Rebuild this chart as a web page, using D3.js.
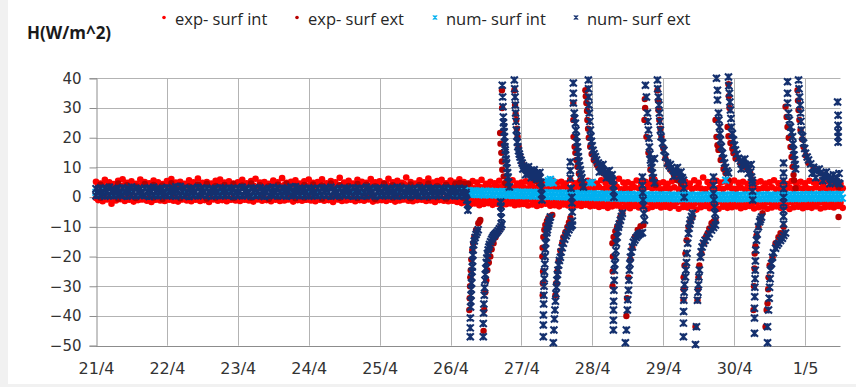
<!DOCTYPE html>
<html><head><meta charset="utf-8">
<script src="https://cdn.jsdelivr.net/npm/d3@7"></script>
<style>body{margin:0;background:#fff}svg{display:block}</style>
</head><body>
<svg id="chart" width="856" height="387"></svg>
<script>
// ---------- axis data ----------
const dayLabels = ["21/4","22/4","23/4","24/4","25/4","26/4","27/4","28/4","29/4","30/4","1/5"];
const yTicks = [40,30,20,10,0,-10,-20,-30,-40,-50];
const seriesNames = ["exp- surf int","exp- surf ext","num- surf int","num- surf ext"];

// time in days from 21/4 00:00; band rows are regularly sampled
const BAND_STEP = 1/16;
// exp- surf int (red) band rows, t = i/16
const expIntTop = [5.2,4.6,5.8,5.0,4.4,5.5,6.0,4.8,5.3,4.5,5.9,5.1,4.7,5.6,5.0,4.4,
5.4,6.1,4.9,5.2,4.5,5.7,5.0,6.3,4.8,5.1,4.6,5.5,5.9,4.9,5.3,4.6,
5.0,5.8,4.7,5.4,6.2,4.9,5.1,4.5,5.6,5.0,6.4,4.8,5.2,5.7,4.6,5.3,
5.9,4.8,5.1,6.0,4.7,5.4,5.0,6.5,4.9,5.5,4.6,5.8,5.2,4.8,6.1,5.0,
5.3,4.7,6.2,5.0,5.5,4.8,6.6,5.1,4.6,5.7,5.0,6.3,4.9,5.4,5.8,4.7,
5.6,4.9,6.0,5.1,4.6,5.4,4.9,5.8,4.5,5.2,4.7,5.5,4.4,5.0,5.7,4.6,
4.9,5.3,4.5,6.0,4.8,5.1,4.3,5.6,4.9,5.2,4.6,5.8,4.7,5.0,4.4,5.5,
5.1,4.6,5.7,4.8,5.3,4.5,6.2,4.9,5.0,4.4,5.6,4.8,5.2,4.6,5.9,4.7,
5.0,4.5,5.4,6.4,4.9,5.2,4.6,5.7,4.8,6.6,5.1,4.7,5.5,4.9,5.3,4.6,
5.6,4.8,5.2,4.5,5.9,4.9,5.3,4.6,5.0,5.7,4.7,5.1,4.4,5.4,4.8,5.2,
4.7,5.5,4.9,5.1,4.6,5.3,4.8,5.0,4.5];
const expIntUpper = [3.9,4.3,3.5,4.0,4.4,3.7,4.1,3.4,4.2,3.8,4.5,3.6,4.0,4.3,3.5,4.1,
3.8,4.2,3.6,4.4,3.9,3.5,4.1,3.7,4.3,4.0,3.6,4.2,3.8,4.4,3.7,4.0,
4.1,3.6,4.3,3.9,3.5,4.2,4.0,3.7,4.4,3.8,4.1,3.6,4.3,3.9,4.0,3.7,
4.2,3.8,4.5,3.6,4.0,4.3,3.7,4.1,3.9,4.4,3.6,4.0,4.2,3.8,4.5,3.9,
4.0,4.4,3.7,4.2,3.9,4.5,3.8,4.1,4.3,3.7,4.0,4.4,3.8,4.2,3.6,4.0,
3.8,3.4,3.9,3.2,3.6,3.0,3.5,3.3,3.7,3.1,3.6,3.4,3.0,3.5,3.2,3.7,
3.3,2.9,3.6,3.1,3.4,2.8,3.5,3.2,3.0,3.6,2.9,3.3,3.1,3.5,2.8,3.2,
3.0,3.4,2.7,3.2,2.9,3.5,2.6,3.1,2.8,3.3,3.0,2.7,3.4,2.9,3.2,2.6,
3.1,2.8,3.3,2.6,3.0,3.5,2.7,3.2,2.9,2.6,3.4,2.8,3.1,2.7,3.3,2.9,
2.8,3.2,2.6,3.0,3.4,2.7,3.1,2.9,3.3,2.6,3.0,2.8,3.2,2.7,3.1,2.9,
3.0,2.7,3.3,2.8,3.1,2.6,3.2,2.9,3.0];
const expIntLower = [-0.3,-0.6,0.0,-0.4,-0.8,-0.2,-0.5,0.1,-0.6,-0.3,-0.7,-0.1,-0.4,-0.9,-0.2,-0.5,
-0.1,-0.6,-0.3,-0.8,0.0,-0.4,-0.7,-0.2,-0.5,-0.9,-0.3,0.1,-0.6,-0.4,-0.8,-0.2,
-0.5,-0.1,-0.7,-0.3,-0.6,0.0,-0.4,-0.8,-0.2,-0.5,-0.3,-0.7,-0.1,-0.6,-0.4,-0.9,
-0.2,-0.6,-0.4,0.1,-0.7,-0.3,-0.5,-0.8,-0.1,-0.4,-0.6,-0.2,-0.9,-0.3,-0.5,0.0,
-0.4,-0.7,-0.2,-0.5,-0.1,-0.8,-0.3,-0.6,0.0,-0.4,-0.7,-0.2,-0.5,-0.3,-0.6,-0.2,
-0.5,-0.3,-0.8,-0.6,-1.0,-0.7,-1.2,-0.9,-0.6,-1.1,-0.8,-1.3,-0.7,-1.0,-0.9,-1.2,
-1.0,-1.3,-0.8,-1.2,-1.5,-1.0,-1.4,-1.1,-1.6,-1.2,-1.5,-1.3,-1.7,-1.4,-1.2,-1.6,
-1.5,-1.8,-1.3,-1.7,-2.0,-1.6,-1.9,-1.4,-1.8,-2.1,-1.6,-1.9,-1.5,-1.8,-2.0,-1.7,
-1.9,-1.6,-2.1,-1.8,-1.5,-2.0,-1.7,-2.2,-1.8,-1.6,-2.0,-1.7,-1.9,-1.5,-2.1,-1.8,
-1.7,-2.0,-1.6,-1.9,-2.2,-1.8,-1.5,-2.0,-1.7,-2.1,-1.9,-1.6,-2.0,-1.8,-1.5,-1.9,
-1.8,-2.1,-1.6,-1.9,-1.7,-2.0,-1.8,-1.6,-1.9];
const expIntBottom = [-1.0,-1.4,-0.8,-2.2,-1.1,-0.7,-1.3,-0.9,-1.5,-1.0,-0.8,-1.2,-1.6,-0.9,-1.1,-1.3,
-0.9,-1.2,-1.5,-0.8,-1.1,-1.4,-0.9,-1.3,-1.0,-1.6,-0.8,-1.2,-1.0,-1.4,-0.9,-1.1,
-1.3,-0.9,-1.1,-1.5,-0.8,-1.2,-1.0,-1.4,-0.9,-1.3,-1.1,-0.8,-1.5,-1.0,-1.2,-0.9,
-1.1,-1.4,-0.9,-1.2,-1.0,-1.6,-0.8,-1.3,-1.1,-0.9,-1.4,-1.0,-1.2,-0.8,-1.5,-1.1,
-1.0,-1.3,-0.9,-1.5,-1.1,-0.8,-1.2,-1.4,-1.0,-0.9,-1.3,-1.1,-1.6,-1.0,-1.2,-1.4,
-1.2,-1.6,-2.0,-1.8,-2.4,-2.1,-2.7,-2.3,-2.0,-2.6,-2.2,-2.8,-2.4,-2.1,-2.7,-2.5,
-2.3,-2.8,-2.5,-3.0,-2.6,-2.2,-2.9,-2.7,-3.1,-2.5,-2.8,-3.2,-2.7,-3.0,-2.6,-3.1,
-2.9,-3.3,-3.0,-3.6,-3.1,-2.8,-3.4,-3.2,-3.7,-3.0,-3.5,-3.1,-3.8,-3.3,-2.9,-3.5,
-3.2,-3.6,-3.0,-3.9,-3.3,-3.5,-3.1,-4.2,-3.4,-3.0,-3.7,-3.3,-3.9,-3.2,-3.6,-3.4,
-3.1,-3.7,-3.3,-3.0,-3.8,-3.4,-3.2,-3.9,-3.5,-3.1,-3.6,-3.3,-4.0,-3.4,-3.2,-3.7,
-3.3,-3.6,-3.1,-3.8,-3.4,-3.2,-3.5,-3.0,-3.6];

// exp- surf ext (dark red) band before 26/4, t = 1/16 + i/8
const expExtBandHi = [4.2,3.8,4.6,4.0,3.6,4.4,4.1,3.9,4.7,4.0,3.7,4.3,4.5,3.8,4.1,4.4,3.9,4.6,4.0,3.7,4.2,4.5,3.8,4.1,4.3,3.9,4.6,4.0,3.8,4.4,4.2,3.7,4.5,4.0,3.9,4.3,4.1,4.6,3.8,4.2,4.0,4.4];
const expExtBandLo = [-0.2,0.3,-0.5,0.1,-0.3,0.4,-0.1,-0.6,0.2,-0.4,0.0,0.3,-0.5,-0.1,0.2,-0.3,0.4,-0.2,0.1,-0.6,0.0,0.3,-0.4,-0.1,0.2,-0.5,0.1,-0.2,0.4,-0.3,0.0,-0.6,0.2,-0.1,0.3,-0.4,0.1,-0.2,0.0,-0.5,0.2,-0.3];
// exp- surf ext spikes [day, value]
const expExtSpikes = [
[5.07,4.5],[5.1,3.8],[5.13,4.8],[5.16,3.5],[5.19,4.2],[5.22,3.6],[5.25,4.5],
[5.265,-38],[5.27,-34],[5.275,-30],[5.279,-27],[5.285,-24.6],[5.293,-21],[5.307,-17.8],[5.32,-15.5],[5.335,-13.4],[5.36,-11],[5.392,-8.8],[5.41,-8.2],[5.42,-7.7],
[5.466,-45],[5.475,-38],[5.49,-32],[5.505,-28],[5.519,-24.6],[5.54,-22],[5.561,-20],[5.58,-17.5],[5.607,-15.5],[5.635,-13.5],[5.66,-12.2],[5.68,-11.2],[5.702,-10.4],
[5.725,36],[5.728,30],[5.70,21.6],[5.705,18],[5.716,14.9],[5.725,12],[5.73,9.2],[5.75,7],[5.772,4.8],[5.80,3],[5.815,2.4],
[5.900,36],[5.91,31],[5.918,28],[5.928,26],[5.935,23],[5.946,20.3],[5.96,17],[5.98,14],[6.01,11.5],[6.055,9.5],[6.1,8],[6.15,6.8],[6.196,5.5],[6.24,4.8],[6.27,4.5],
[6.30,-33],[6.302,-29],[6.305,-25],[6.295,-20],[6.299,-17],[6.309,-13.4],[6.323,-11],[6.337,-9.4],[6.36,-8],[6.38,-7],[6.41,-6.4],[6.436,-6],
[6.479,-33],[6.49,-29],[6.507,-25],[6.525,-21.5],[6.549,-18],[6.575,-15.5],[6.591,-13.5],[6.62,-11.8],[6.648,-10],[6.67,-8.5],[6.69,-7],
[6.732,31.7],[6.732,26],[6.735,20.3],[6.75,17],[6.761,14.9],[6.775,12.5],[6.789,10.2],[6.81,8],[6.831,5.7],[6.86,4.2],[6.874,3.4],
[6.902,36],[6.908,34],[6.916,31.7],[6.925,29],[6.93,26],[6.94,23],[6.95,20],[6.97,17],[6.99,14.5],[7.02,12.5],[7.06,11],[7.085,10],[7.12,9],[7.156,8],[7.2,7],[7.25,6],[7.28,5],
[7.285,-30],[7.287,-25],[7.29,-20],[7.283,-15.5],[7.3,-13.4],[7.325,-11.5],[7.35,-10],[7.38,-8.5],[7.396,-6.7],[7.424,-5.4],
[7.48,-40],[7.49,-34],[7.509,-27],[7.537,-21],[7.565,-17],[7.6,-13.4],[7.64,-11],[7.68,-9.8],[7.721,-9.4],
[7.74,33],[7.745,30],[7.735,26],[7.763,20.3],[7.791,14.9],[7.819,9.2],[7.84,6],[7.89,4.1],
[7.918,36],[7.925,32.5],[7.932,29.3],[7.945,26],[7.96,23],[7.975,20.3],[8.0,16.5],[8.03,13],[8.06,11],[8.101,9.2],[8.15,7.5],[8.2,5.7],[8.25,4.5],
[8.285,-34.6],[8.287,-31],[8.287,-27],[8.3,-23],[8.313,-19],[8.33,-14.5],[8.356,-10],[8.384,-8],[8.412,-6.7],
[8.455,-43.6],[8.483,-34.7],[8.49,-31],[8.497,-27],[8.51,-23],[8.54,-19],[8.57,-15.5],[8.6,-13.5],[8.624,-12.2],[8.65,-10.5],[8.681,-8.8],[8.71,-8.2],[8.737,-7.8],
[8.737,26],[8.751,20.3],[8.765,17.5],[8.779,15.9],[8.81,12.5],[8.85,9.5],[8.878,8.1],[8.92,5.7],
[8.92,38],[8.925,34],[8.935,30],[8.907,23.6],[8.92,20.5],[8.948,18.2],[8.975,16.3],[8.991,14.8],[9.02,13],[9.09,11.5],[9.15,10.2],[9.203,9.1],[9.23,8],
[9.273,-38],[9.28,-30],[9.287,-24],[9.29,-19],[9.3,-16.5],[9.315,-13],[9.343,-10],[9.372,-7.5],[9.40,-5.4],
[9.442,-43.6],[9.458,-38],[9.471,-35.7],[9.48,-31],[9.485,-27],[9.5,-23],[9.541,-20.2],[9.584,-15.5],[9.625,-13.5],[9.654,-12.1],[9.697,-10],
[9.725,30.4],[9.74,27],[9.753,23.6],[9.77,20],[9.795,16.9],[9.81,13.5],[9.824,10.2],[9.838,7.5],[9.845,5.7],[9.866,3],
[9.894,36],[9.9,32.5],[9.908,29.3],[9.92,26],[9.936,22.6],[9.96,19.5],[9.979,16.9],[10.01,14],[10.049,11.5],[10.12,9.5],[10.219,8.1],[10.3,6.8],[10.36,5.7],[10.43,4.5],[10.473,3.4],
[10.473,-6.7]];

// num- surf int (light blue): hidden row before 26/4 (t = i/8), two rows after (t = 5 + i/20)
const numIntPre = [1.6,1.9,1.4,1.7,2.0,1.5,1.8,1.3,1.7,2.1,1.6,1.4,1.9,1.7,1.5,2.0,1.6,1.8,1.4,1.9,1.7,1.5,2.0,1.6,1.8,1.3,1.7,1.9,1.5,1.8,1.6,2.0,1.4,1.7,1.9,1.6,1.8,1.5,1.7,2.0,1.8,1.9];
const numIntUp = [2.3,2.2,2.3,2.1,2.2,2.2,2.0,2.1,2.1,1.9,2.0,2.0,1.9,1.9,1.8,1.9,1.8,1.7,1.8,1.7,
1.7,1.6,1.7,1.6,1.5,1.6,1.5,1.4,1.5,1.4,1.4,1.3,1.4,1.3,1.2,1.3,1.2,1.2,1.1,1.2,
1.1,1.0,1.1,1.0,0.9,1.0,0.9,0.9,0.8,0.9,0.8,0.9,0.8,0.7,0.8,0.8,0.7,0.8,0.7,0.8,
0.7,0.8,0.7,0.6,0.7,0.7,0.8,0.6,0.7,0.7,0.6,0.7,0.8,0.7,0.6,0.7,0.7,0.6,0.7,0.8,
0.7,0.6,0.7,0.7,0.8,0.7,0.6,0.7,0.7,0.8,0.7,0.6,0.7,0.8,0.7,0.7,0.8,0.7,0.8,0.7,
0.8,0.9,0.8,0.8,0.9,0.8,0.9,0.8,0.9,0.8,0.9];
const numIntLo = [1.1,1.0,1.1,0.9,1.0,0.9,0.9,0.8,0.9,0.7,0.8,0.8,0.7,0.7,0.6,0.7,0.6,0.5,0.6,0.5,
0.5,0.4,0.5,0.3,0.4,0.3,0.3,0.2,0.3,0.2,0.2,0.1,0.2,0.1,0.0,0.1,0.0,0.0,-0.1,0.0,
-0.1,-0.2,-0.1,-0.2,-0.3,-0.2,-0.3,-0.3,-0.4,-0.3,-0.4,-0.3,-0.4,-0.5,-0.4,-0.4,-0.5,-0.4,-0.5,-0.4,
-0.5,-0.4,-0.5,-0.6,-0.5,-0.5,-0.4,-0.6,-0.5,-0.5,-0.6,-0.5,-0.4,-0.5,-0.6,-0.5,-0.5,-0.6,-0.5,-0.4,
-0.5,-0.6,-0.5,-0.5,-0.4,-0.5,-0.6,-0.5,-0.5,-0.4,-0.5,-0.6,-0.5,-0.4,-0.5,-0.5,-0.4,-0.5,-0.4,-0.5,
-0.4,-0.3,-0.4,-0.4,-0.3,-0.4,-0.3,-0.4,-0.3,-0.4,-0.3];
const numIntOutliers = [[6.366,4.8],[6.38,5.5],[6.394,4.8],[6.408,6],[6.43,5.2],[6.45,4.8],[6.96,4.8],[7.0,5],[8.88,5.7]];

// num- surf ext (navy) band before 26/4, t = i/16
const numExtHi = [2.8,3.1,2.9,3.3,2.7,3.0,3.2,2.8,3.4,3.0,2.7,3.1,2.9,3.3,2.8,3.0,
3.2,2.9,3.5,3.6,3.1,2.8,3.0,3.3,2.9,3.1,2.7,3.0,3.2,2.8,3.1,2.9,
3.0,3.3,2.8,3.1,2.9,3.2,2.7,3.0,3.3,2.9,3.1,2.8,3.4,3.5,3.0,2.9,
3.1,2.8,3.0,3.2,2.9,3.3,2.7,3.0,3.1,2.8,3.2,2.9,3.0,3.3,2.8,3.1,
2.9,3.2,2.8,3.0,3.3,2.9,3.1,2.7,3.0,3.2,2.8,3.1,2.9,3.0,2.8,3.1,
2.9,2.7,3.0,2.8];
const numExtMid = [1.8,1.6,2.0,1.7,1.9,1.5,1.8,2.1,1.7,1.9,1.6,1.8,2.0,1.7,1.9,1.6,
1.9,1.7,2.2,1.8,1.6,2.0,1.7,1.9,1.8,1.6,2.1,1.7,1.9,1.8,2.0,1.7,
1.8,2.0,1.6,1.9,1.7,2.1,1.8,1.6,1.9,1.7,2.0,1.8,1.6,2.1,1.9,1.7,
1.9,1.6,1.8,2.0,1.7,1.9,1.6,1.8,2.1,1.7,1.9,1.8,1.6,2.0,1.7,1.9,
1.7,2.0,1.8,1.6,1.9,1.7,2.1,1.8,1.6,1.9,1.7,2.0,1.8,1.7,1.9,1.6,
1.8,1.7,1.5,1.6];
const numExtLo = [0.5,0.7,0.3,0.6,0.4,0.8,0.5,0.3,0.6,0.4,0.7,0.5,0.2,0.6,0.4,0.7,
0.4,0.6,0.3,0.7,0.5,0.2,0.6,0.4,0.8,0.5,0.3,0.6,0.4,0.7,0.5,0.3,
0.6,0.4,0.7,0.3,0.5,0.6,0.2,0.5,0.7,0.4,0.6,0.3,0.5,0.7,0.4,0.6,
0.3,0.6,0.4,0.7,0.5,0.3,0.6,0.4,0.8,0.5,0.3,0.6,0.4,0.5,0.7,0.3,
0.5,0.7,0.4,0.6,0.3,0.5,0.7,0.4,0.6,0.5,0.3,0.6,0.4,0.7,0.5,0.4,
0.6,0.4,0.5,0.3];
// num- surf ext spikes [day, value]
const numExtSpikes = [
[5.22,1],[5.23,-1],[5.24,-2.5],[5.245,-4.4],
[5.279,-47],[5.279,-44],[5.28,-40.7],[5.283,-37],[5.287,-35],[5.29,-33],[5.293,-31],[5.297,-29],[5.30,-27],[5.304,-25],[5.307,-23.5],[5.312,-21.5],[5.316,-19.5],[5.32,-17.8],[5.326,-16],[5.335,-14.8],[5.347,-13.6],[5.36,-12.6],[5.375,-11.8],[5.39,-11],
[5.462,-47],[5.462,-42.5],[5.466,-39],[5.47,-36],[5.476,-33],[5.48,-30.5],[5.486,-28],[5.49,-26],[5.497,-24],[5.504,-22],[5.512,-20.5],[5.52,-19],[5.53,-17.8],[5.54,-16.8],[5.55,-15.9],[5.565,-15],[5.58,-14.2],[5.595,-13.5],[5.61,-12.9],[5.63,-12.4],[5.65,-11.9],[5.67,-11.3],[5.69,-10.6],[5.71,-10],[5.725,-9.2],
[5.715,-7],[5.712,-5],[5.71,-3],[5.708,-1.6],
[5.730,37.7],[5.735,33.7],[5.740,30.4],[5.745,27],[5.748,25],[5.752,23.6],[5.756,22],[5.76,20.3],[5.764,18.5],[5.768,17],[5.772,15.9],[5.777,14.2],[5.783,12.8],[5.79,11.5],[5.797,9.8],[5.805,8.2],[5.812,6.8],[5.82,5],[5.83,3.4],
[5.900,39.4],[5.905,36.5],[5.91,33.7],[5.914,31],[5.918,28.3],[5.923,25.5],[5.928,22.6],[5.935,20.5],[5.942,18.5],[5.95,17],[5.96,15.6],[5.97,14.5],[5.98,13.5],[5.995,12.4],[6.01,11.5],[6.03,10.6],[6.05,9.9],[6.07,9.4],[6.09,9],[6.11,8.6],[6.13,8.3],[6.15,8.1],[6.17,7.9],[6.19,7.7],[6.21,7.5],[6.23,7.3],[6.25,7],[6.265,6.5],
[6.02,9.5],[6.06,7.5],[6.1,10.2],[6.14,6.5],[6.18,9.2],[6.22,6],[6.26,8.3],
[6.275,5],[6.28,3],[6.285,1],[6.29,-1],
[6.309,-47],[6.309,-43],[6.31,-39.7],[6.313,-36],[6.316,-33],[6.319,-30],[6.322,-27.5],[6.325,-25],[6.329,-22.5],[6.333,-20],[6.337,-17.5],[6.342,-15.5],[6.35,-13.5],[6.358,-12],[6.366,-11],[6.375,-9.8],[6.385,-8.8],[6.395,-7.8],[6.408,-6.7],
[6.45,-49],[6.458,-44.7],[6.465,-41],[6.472,-38],[6.48,-35],[6.487,-32.5],[6.494,-30.3],[6.50,-28],[6.507,-26],[6.515,-24.6],[6.525,-22.8],[6.535,-21.3],[6.549,-20.2],[6.56,-18.5],[6.575,-17],[6.591,-15.5],[6.61,-14.2],[6.63,-13],[6.648,-12.1],[6.67,-11],[6.69,-10.1],[6.705,-9.6],[6.718,-9.4],
[6.718,-8],[6.716,-5],[6.712,-2],[6.71,0],[6.70,3],[6.69,6.4],[6.69,9],[6.69,11.8],
[6.732,38.4],[6.732,35],[6.733,31.7],[6.745,28.3],[6.752,26.5],[6.761,24.9],[6.768,22.5],[6.775,20.3],[6.782,18.5],[6.789,16.9],[6.797,15.2],[6.803,13.6],[6.81,12.2],[6.82,10.6],[6.831,9.2],[6.842,7.8],[6.853,6.5],[6.865,5],[6.874,3.4],
[6.944,39.4],[6.946,36.5],[6.948,33.7],[6.952,31],[6.958,28.3],[6.965,25.5],[6.973,22.6],[6.98,20.4],[6.988,18.8],[6.998,17.3],[7.01,15.8],[7.025,14.6],[7.043,13.6],[7.06,12.5],[7.085,11.5],[7.11,10.5],[7.135,9.7],[7.156,9.1],[7.18,8.5],[7.205,7.8],[7.23,7.2],[7.255,6.8],[7.275,6.2],[7.29,5.5],
[7.1,8.5],[7.15,11],[7.2,6.5],[7.24,9],[7.28,7.5],
[7.297,4],[7.30,2],[7.305,0],
[7.297,-44.7],[7.297,-41.4],[7.298,-38],[7.30,-35],[7.304,-31.3],[7.308,-28],[7.311,-24.6],[7.316,-22.5],[7.325,-20.2],[7.332,-18],[7.34,-15.5],[7.35,-13.5],[7.36,-11.5],[7.368,-10.1],[7.38,-9],[7.396,-7.8],[7.41,-6.5],[7.424,-5.4],
[7.466,-49],[7.48,-44.7],[7.494,-38],[7.50,-34.5],[7.509,-31.3],[7.515,-28],[7.523,-24.6],[7.53,-22.4],[7.537,-20.2],[7.55,-18.4],[7.565,-16.8],[7.58,-15.2],[7.6,-14.4],[7.62,-13.6],[7.64,-13],[7.66,-12.5],[7.68,-12.2],[7.706,-12],
[7.735,-7.8],[7.728,-5.5],[7.721,-3],[7.715,-1],[7.71,1.5],[7.706,4],[7.706,6.8],
[7.749,37.7],[7.763,33.7],[7.777,28.3],[7.784,25.5],[7.791,22.6],[7.798,19.8],[7.805,16.9],[7.812,14.5],[7.82,12.5],[7.83,11.5],[7.84,10],[7.847,8.1],[7.86,6.5],[7.876,4.8],[7.876,13],
[7.918,39.4],[7.922,36.5],[7.932,33.7],[7.94,31],[7.946,28.3],[7.953,25.5],[7.96,22.6],[7.97,20.3],[7.99,18.2],[8.01,15.8],[8.031,13.5],[8.06,11.5],[8.085,10.6],[8.11,9.8],[8.14,9],[8.17,8.5],[8.2,8.1],[8.23,7],[8.26,6.2],[8.285,5.7],
[8.1,11],[8.15,7],[8.2,10],[8.25,8.5],[8.27,6.5],
[8.29,3],[8.295,0],
[8.285,-47],[8.285,-42.4],[8.287,-38.5],[8.29,-34.7],[8.295,-32],[8.30,-29.5],[8.313,-26.9],[8.32,-24.5],[8.328,-22],[8.336,-18.9],[8.345,-15.5],[8.356,-12.2],[8.365,-10.5],[8.375,-9],[8.384,-7.8],[8.40,-6.5],[8.412,-5.4],
[8.455,-49.6],[8.469,-43.6],[8.483,-34.7],[8.49,-32],[8.497,-29.5],[8.503,-26.9],[8.51,-24.5],[8.525,-20.2],[8.535,-18.4],[8.548,-16.8],[8.568,-15.5],[8.59,-14.5],[8.624,-13.4],[8.65,-12.3],[8.681,-11.1],[8.71,-10.2],[8.737,-9.4],
[8.737,-7.8],[8.73,-5.5],[8.723,-3.4],[8.716,-1],[8.709,1.3],[8.709,4],[8.709,6.8],
[8.751,40],[8.765,36],[8.765,32.7],[8.779,28.3],[8.785,26],[8.793,23.6],[8.8,21.3],[8.807,19.2],[8.82,17],[8.835,14.8],[8.85,13],[8.865,11.5],[8.878,10],[8.9,8.8],[8.92,8.1],
[8.920,40.4],[8.925,37.5],[8.934,35],[8.94,32],[8.948,29.3],[8.955,26.5],[8.962,23.6],[8.975,21.3],[8.991,19.2],[9.005,17.5],[9.019,15.9],[9.04,14.5],[9.061,13.1],[9.09,12.2],[9.132,11.5],[9.17,10.7],[9.203,10.1],[9.231,8.5],[9.245,6.8],[9.255,5.7],
[9.1,9.5],[9.15,12.8],[9.2,8],[9.24,11],
[9.259,4.8],[9.259,2],[9.262,-1],
[9.287,-45.8],[9.287,-40.7],[9.287,-37.4],[9.29,-33.5],[9.292,-30.3],[9.295,-27.5],[9.298,-24.6],[9.30,-21.5],[9.305,-17.8],[9.315,-14.5],[9.325,-12.5],[9.343,-10],[9.36,-8.3],[9.372,-7.5],[9.386,-6.7],
[9.471,-49],[9.471,-43.6],[9.485,-38],[9.495,-34],[9.50,-30.3],[9.507,-27.5],[9.513,-24.6],[9.527,-22.3],[9.541,-20.2],[9.555,-18.7],[9.584,-17.2],[9.605,-16.2],[9.626,-15.5],[9.654,-14.6],[9.68,-13.8],[9.70,-12.9],[9.725,-12.1],
[9.697,-9],[9.697,-6.5],[9.697,-4.4],[9.697,-2],[9.697,0],[9.697,2.8],[9.697,5.5],[9.697,8.1],[9.697,11.5],
[9.753,38.8],[9.753,35],[9.753,31.7],[9.767,28.3],[9.78,26],[9.795,23.6],[9.81,21.8],[9.824,20.3],[9.83,18],[9.838,15.9],[9.845,14.2],[9.852,12.5],[9.86,11],[9.866,9.5],
[9.908,39.4],[9.915,36.5],[9.922,33.7],[9.93,31],[9.936,28.3],[9.943,25.5],[9.95,22.6],[9.965,20.4],[9.979,18.2],[9.995,16.4],[10.007,14.8],[10.03,13.5],[10.049,12.5],[10.08,11.2],[10.12,10.1],[10.17,9],[10.219,8.1],[10.27,7.4],[10.318,6.8],[10.36,6.2],[10.402,5.7],[10.44,5.2],[10.473,4.8],[10.49,4.5],
[10.1,8],[10.15,6.5],[10.2,9.5],[10.25,5.5],[10.3,8.5],[10.35,4.5],[10.4,7.5],[10.45,6.5],[10.48,8],
[10.459,32],[10.466,27.6],[10.466,24.2],[10.466,21.9],[10.466,20.3],[10.466,18.5]];

// ---------- layout ----------
const W = 856, H = 387;
const svg = d3.select("#chart");
svg.append("rect").attr("width", W).attr("height", H).attr("fill", "#ffffff");
svg.append("rect").attr("x", 0).attr("y", 0).attr("width", 8).attr("height", H).attr("fill", "#f1f1f1");
svg.append("rect").attr("x", 0).attr("y", 384).attr("width", W).attr("height", 3).attr("fill", "#f1f1f1");

const x = d3.scaleLinear().domain([0, 10.5]).range([96, 840.5]);
const y = d3.scaleLinear().domain([-50, 40]).range([345.7, 78.3]);

const TICK_FONT = "'DejaVu Sans', sans-serif";
const TEXT_COL = "#333333";

// horizontal gridlines
const grid = svg.append("g");
grid.selectAll("line.h").data(yTicks.filter(d => d !== -50)).join("line")
  .attr("x1", x(0)).attr("x2", x(10.5))
  .attr("y1", d => Math.round(y(d)) + 0.5).attr("y2", d => Math.round(y(d)) + 0.5)
  .attr("stroke", "#b3b3b3").attr("stroke-width", 1);
// vertical gridlines at each day
grid.selectAll("line.v").data(d3.range(1, dayLabels.length)).join("line")
  .attr("x1", d => Math.round(x(d)) + 0.5).attr("x2", d => Math.round(x(d)) + 0.5)
  .attr("y1", y(40)).attr("y2", y(-50))
  .attr("stroke", "#b3b3b3").attr("stroke-width", 1);

// y axis
const yAxis = d3.axisLeft(y).tickValues(yTicks).tickSize(7).tickPadding(8).tickFormat(d3.format("d"));
const gy = svg.append("g").attr("transform", "translate(96.5,0)").call(yAxis);
gy.select(".domain").attr("stroke", "#8c8c8c");
gy.selectAll(".tick line").attr("stroke", "#8c8c8c");
gy.selectAll(".tick text").attr("font-family", TICK_FONT).attr("font-size", 15).attr("fill", TEXT_COL);

// x axis
const xAxis = d3.axisBottom(x).tickValues(d3.range(dayLabels.length)).tickSize(0).tickPadding(16)
  .tickFormat(i => dayLabels[i]);
const gx = svg.append("g").attr("transform", `translate(0,${Math.round(y(-50)) + 0.5})`).call(xAxis);
gx.select(".domain").attr("stroke", "#8c8c8c").attr("d", `M${x(0)},0H${x(10.5)}`);
gx.selectAll(".tick text").attr("font-family", TICK_FONT).attr("font-size", 16).attr("fill", TEXT_COL);

// ---------- marks ----------
const plot = svg.append("g");
const rows = (vals, t0, step) => vals.map((v, i) => [t0 + i * step, v]);

function dots(data, color, r) {
  plot.append("g").selectAll("circle").data(data).join("circle")
    .attr("cx", d => x(d[0])).attr("cy", d => y(d[1])).attr("r", r).attr("fill", color);
}
function stars(data, color, s, sw) {
  const p = d3.path();
  data.forEach(d => {
    const cx = x(d[0]), cy = y(d[1]);
    p.moveTo(cx - s, cy - s); p.lineTo(cx + s, cy + s);
    p.moveTo(cx - s, cy + s); p.lineTo(cx + s, cy - s);
    p.moveTo(cx, cy - s); p.lineTo(cx, cy + s);
  });
  plot.append("path").attr("d", p.toString()).attr("stroke", color).attr("stroke-width", sw).attr("fill", "none");
}

const C_EXT_INT = "#ff0000", C_EXP_EXT = "#b80000", C_NUM_INT = "#00b0f0", C_NUM_EXT = "#14306e";

// exp- surf int
dots([].concat(rows(expIntTop, 0, BAND_STEP), rows(expIntUpper, BAND_STEP / 2, BAND_STEP),
  rows(expIntLower, 0, BAND_STEP), rows(expIntBottom, BAND_STEP / 2, BAND_STEP)), C_EXT_INT, 3.3);
// exp- surf ext
dots([].concat(rows(expExtBandHi, 1 / 16, 1 / 8), rows(expExtBandLo, 1 / 16, 1 / 8), expExtSpikes), C_EXP_EXT, 3.2);
// num- surf int
stars([].concat(rows(numIntPre, 0, 1 / 8), rows(numIntUp, 5, 1 / 20), rows(numIntLo, 5 + 1 / 40, 1 / 20), numIntOutliers), C_NUM_INT, 3.4, 2.0);
// num- surf ext
stars([].concat(rows(numExtHi, 0, BAND_STEP), rows(numExtMid, BAND_STEP / 2, BAND_STEP), rows(numExtLo, 0, BAND_STEP), numExtSpikes), C_NUM_EXT, 3.5, 2.1);

// ---------- title & legend ----------
svg.append("text").attr("x", 27).attr("y", 39).text("H(W/m^2)")
  .attr("font-family", "'Open Sans', sans-serif").attr("font-weight", "bold").attr("font-size", 17).attr("fill", "#1a1a1a");

const legendX = [164, 297, 435, 576];
const legendColors = [C_EXT_INT, C_EXP_EXT, C_NUM_INT, C_NUM_EXT];
const lg = svg.append("g");
seriesNames.forEach((name, i) => {
  const cx = legendX[i], cy = 17.5;
  if (i < 2) {
    lg.append("circle").attr("cx", cx).attr("cy", cy).attr("r", 1.8).attr("fill", legendColors[i]);
  } else {
    const s = 2.2;
    lg.append("path").attr("d", `M${cx - s},${cy - s}L${cx + s},${cy + s}M${cx - s},${cy + s}L${cx + s},${cy - s}M${cx},${cy - s}L${cx},${cy + s}`)
      .attr("stroke", legendColors[i]).attr("stroke-width", 1.1).attr("fill", "none");
  }
  lg.append("text").attr("x", cx + 11).attr("y", 24.5).text(name)
    .attr("font-family", "'Open Sans', sans-serif").attr("font-size", 16.5).attr("fill", "#262626");
});
</script>
</body></html>
